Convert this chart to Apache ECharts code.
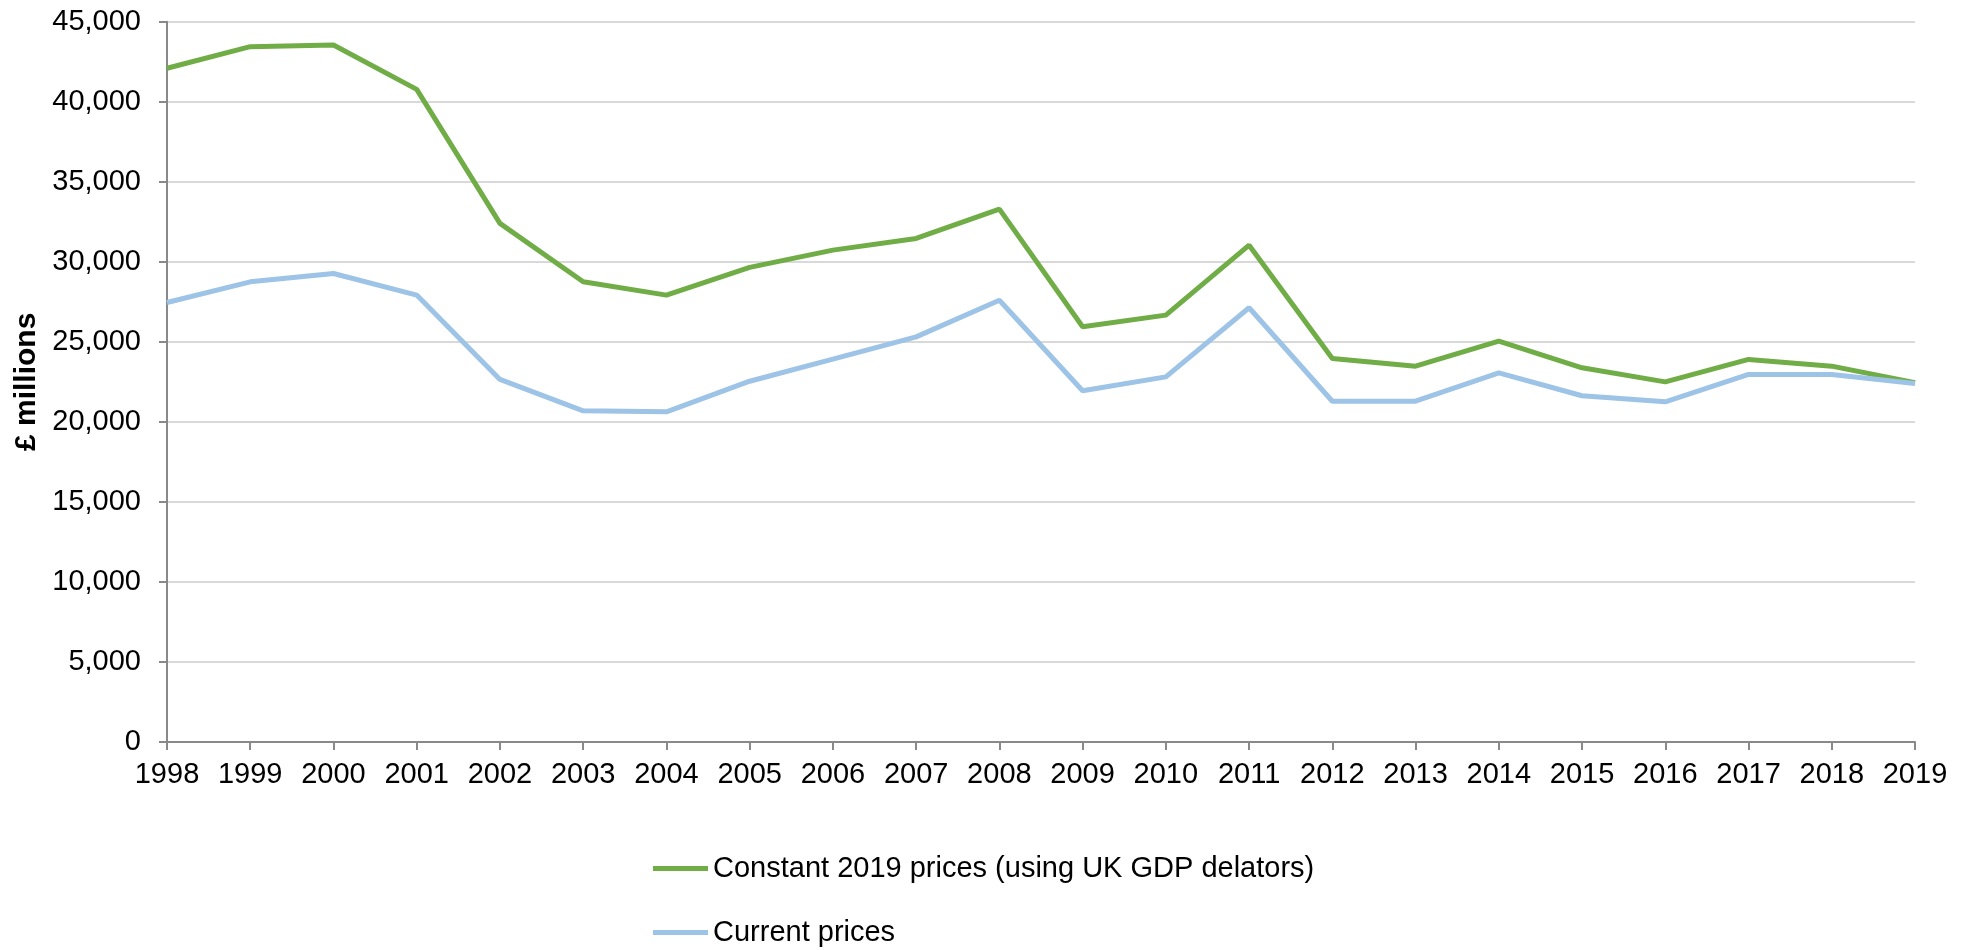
<!DOCTYPE html>
<html>
<head>
<meta charset="utf-8">
<script src="https://cdn.jsdelivr.net/npm/echarts@6/dist/echarts.min.js"></script>
<style>
html,body{margin:0;padding:0;background:#fff;}
#chart{width:1962px;height:950px;}
</style>
</head>
<body>
<div id="chart"></div>
<script>
const years = ['1998','1999','2000','2001','2002','2003','2004','2005','2006','2007','2008','2009','2010','2011','2012','2013','2014','2015','2016','2017','2018','2019'];
const constantPrices = [42090,43440,43540,40770,32400,28750,27920,29650,30730,31460,33290,25940,26670,31040,23960,23480,25040,23380,22500,23900,23480,22440];
const currentPrices = [27460,28750,29270,27920,22650,20690,20630,22540,23920,25310,27600,21940,22810,27130,21290,21290,23060,21630,21250,22960,22960,22400];
const seriesNames = ['Constant 2019 prices (using UK GDP delators)','Current prices'];
const yAxisName = '£ millions';

const chart = echarts.init(document.getElementById('chart'));
const font = 'Liberation Sans, Arial, sans-serif';
const legendBase = {
  orient:'vertical',
  left:653,
  padding:0,
  icon:'rect',
  itemWidth:55,
  itemHeight:5,
  textStyle:{fontFamily:font,fontSize:29,color:'#000'}
};
chart.setOption({
  animation:false,
  backgroundColor:'#fff',
  grid:{left:167,right:47,top:21.7,bottom:208},
  legend:[
    Object.assign({}, legendBase, {top:854, data:[seriesNames[0]]}),
    Object.assign({}, legendBase, {top:918, data:[seriesNames[1]]})
  ],
  xAxis:{
    type:'category',
    data:years,
    boundaryGap:false,
    axisLine:{lineStyle:{color:'#898989',width:2}},
    axisTick:{show:true,length:8,lineStyle:{color:'#898989',width:2}},
    axisLabel:{fontFamily:font,fontSize:29,color:'#000',margin:18,interval:0},
    splitLine:{show:false}
  },
  yAxis:{
    type:'value',
    min:0,max:45000,interval:5000,
    name:yAxisName,
    nameLocation:'middle',
    nameRotate:90,
    nameGap:123,
    nameTextStyle:{fontFamily:font,fontSize:30,fontWeight:'bold',color:'#000'},
    axisLine:{show:true,lineStyle:{color:'#898989',width:2}},
    axisTick:{show:true,length:8,lineStyle:{color:'#898989',width:2}},
    axisLabel:{fontFamily:font,fontSize:29,color:'#000',margin:26,
      formatter:v=>v.toLocaleString('en-GB')},
    splitLine:{lineStyle:{color:'#d9d9d9',width:2}}
  },
  series:[
    {name:seriesNames[0],type:'line',data:constantPrices,showSymbol:false,symbol:'none',
     lineStyle:{color:'#70AD47',width:5},itemStyle:{color:'#70AD47'}},
    {name:seriesNames[1],type:'line',data:currentPrices,showSymbol:false,symbol:'none',
     lineStyle:{color:'#9DC3E6',width:5},itemStyle:{color:'#9DC3E6'}}
  ]
});
</script>
</body>
</html>
